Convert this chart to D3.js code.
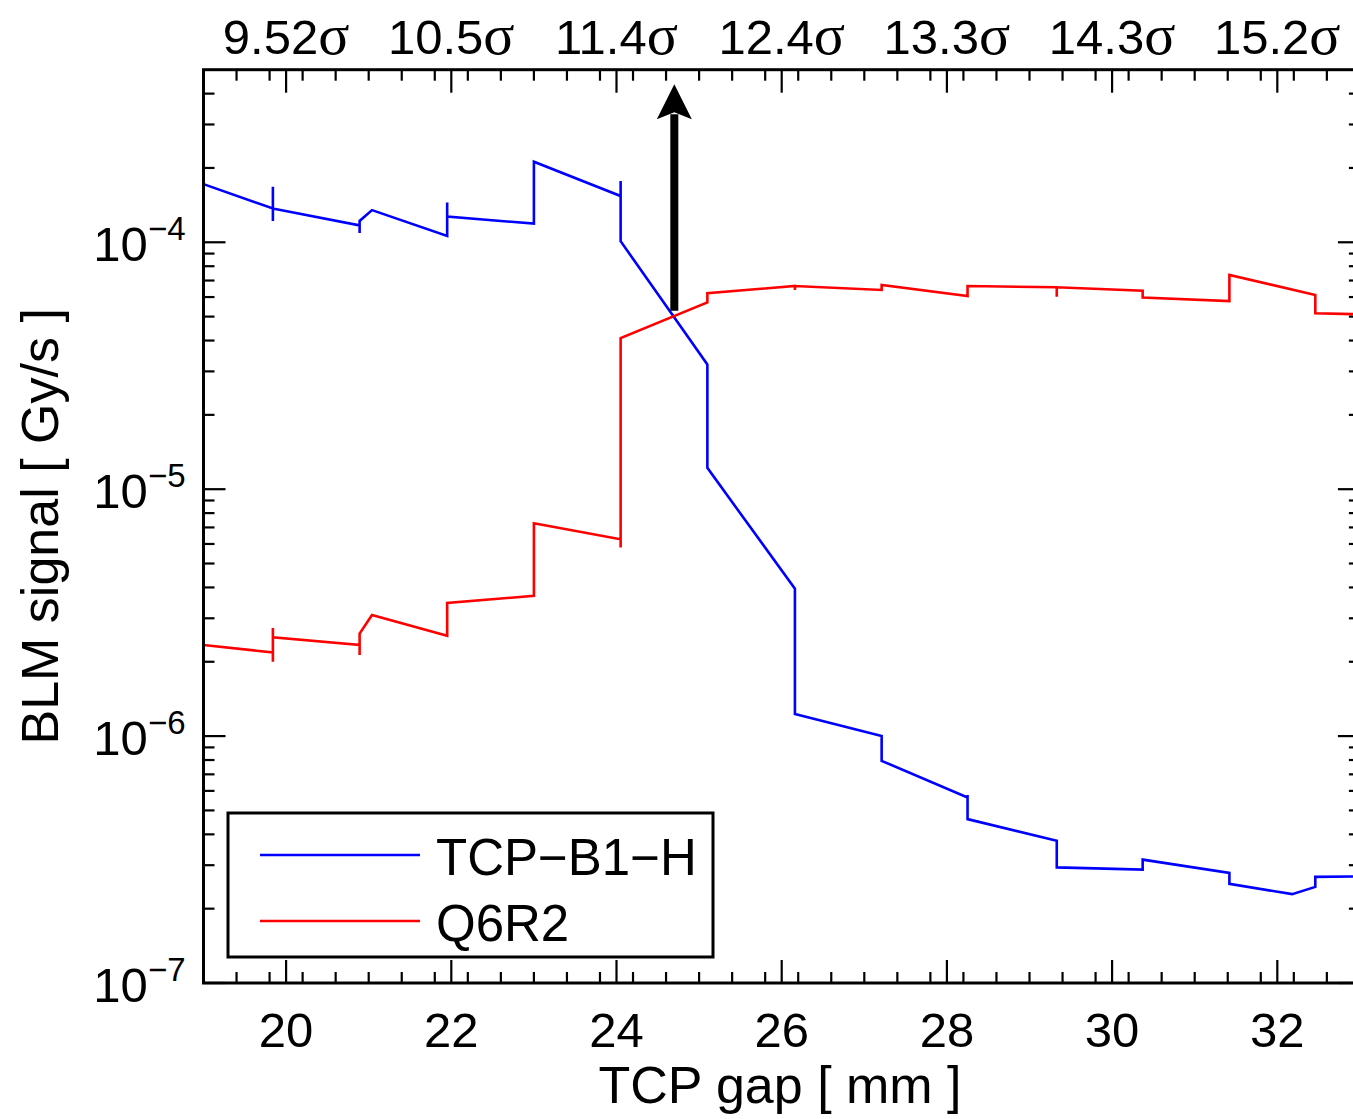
<!DOCTYPE html>
<html>
<head>
<meta charset="utf-8">
<script src="https://cdn.jsdelivr.net/npm/d3@7"></script>
<style>
body{margin:0;background:#fff}
text{font-family:"Liberation Sans",Arial,Helvetica,sans-serif}
</style>
</head>
<body>
<div id="chart"></div>
<script>
// TCP gap [mm] and BLM signal [Gy/s]
const seriesNames = ["TCP\u2212B1\u2212H", "Q6R2"]
const seriesColors = ["#0000ff", "#ff0000"]

const blueGap = [19.0,19.84,19.84,19.84,19.84,20.89,20.89,20.89,21.04,21.95,21.95,21.95,23.0,23.0,24.05,24.05,24.05,25.10,25.10,26.16,26.16,27.21,27.21,28.25,28.25,28.25,29.33,29.33,30.37,30.37,31.42,31.42,32.18,32.46,32.46,33.0]
const blueSignal = [1.72e-4,1.37e-4,1.68e-4,1.22e-4,1.37e-4,1.17e-4,1.09e-4,1.22e-4,1.35e-4,1.06e-4,1.45e-4,1.27e-4,1.19e-4,2.12e-4,1.54e-4,1.77e-4,1.01e-4,3.20e-5,1.22e-5,3.95e-6,1.23e-6,1.00e-6,7.94e-7,5.64e-7,5.77e-7,4.61e-7,3.77e-7,2.94e-7,2.88e-7,3.16e-7,2.79e-7,2.52e-7,2.29e-7,2.45e-7,2.69e-7,2.70e-7]

const redGap = [19.0,19.84,19.84,19.84,19.84,20.89,20.89,20.89,21.04,21.95,21.95,23.0,23.0,24.05,24.05,24.05,25.10,25.10,26.16,26.16,26.16,27.21,27.21,28.25,28.25,29.33,29.33,29.33,30.37,30.37,31.42,31.42,32.46,32.46,33.0]
const redSignal = [2.34e-6,2.18e-6,2.00e-6,2.74e-6,2.51e-6,2.34e-6,2.13e-6,2.60e-6,3.09e-6,2.55e-6,3.46e-6,3.70e-6,7.28e-6,6.27e-6,5.80e-6,4.09e-5,5.71e-5,6.22e-5,6.65e-5,6.41e-5,6.65e-5,6.41e-5,6.72e-5,6.06e-5,6.65e-5,6.57e-5,6.02e-5,6.57e-5,6.37e-5,5.97e-5,5.78e-5,7.37e-5,6.12e-5,5.16e-5,5.11e-5]

const gapTicks = [20,22,24,26,28,30,32]
const sigmaLabels = ["9.52","10.5","11.4","12.4","13.3","14.3","15.2"]
const decadeTicks = [1e-7,1e-6,1e-5,1e-4]
const decadeExp = ["\u22127","\u22126","\u22125","\u22124"]

const arrowGap = 24.7
const arrowFrom = 5.28e-5
const arrowTo = 4.37e-4

function translate(x,y){return `translate(${x}, ${y})`}

const svgWidth = 1353
const svgHeight = 1119
const margin = {left:203.5, top:69.7}
const graph_width = 1156.4
const graph_height = 913.3

const svg = d3.select("#chart").append("svg").attr("width",svgWidth).attr("height",svgHeight)

const xScale = d3.scaleLinear().domain([19,33]).range([0,graph_width])
const yScale = d3.scaleLog().domain([1e-7,5e-4]).range([graph_height,0])

const graphArea = svg.append("g").attr("transform", translate(margin.left, margin.top))

graphArea.append("defs").append("clipPath").attr("id","plotClip")
    .append("rect").attr("width",graph_width).attr("height",graph_height)

// minor ticks
let minorX = d3.range(19,33.001,0.4).map(v=>Math.round(v*10)/10).filter(v=>!gapTicks.includes(v))
let minorY = []
for(let e=-7;e<=-4;e++){
    for(let m=2;m<=9;m++){
        let v = m*Math.pow(10,e)
        if(v<5e-4) minorY.push(v)
    }
}

function tickSet(cls){
    return graphArea.append("g").attr("class",cls).attr("stroke","#000").attr("stroke-width",2.2)
}
let ticks = tickSet("ticks")
ticks.selectAll("line.xb").data(gapTicks.concat(minorX)).enter().append("line")
    .attr("x1",d=>xScale(d)).attr("x2",d=>xScale(d))
    .attr("y1",graph_height).attr("y2",d=>graph_height-(gapTicks.includes(d)?23:11))
ticks.selectAll("line.xt").data(gapTicks.concat(minorX)).enter().append("line")
    .attr("x1",d=>xScale(d)).attr("x2",d=>xScale(d))
    .attr("y1",0).attr("y2",d=>gapTicks.includes(d)?23:11)
ticks.selectAll("line.yl").data(decadeTicks.concat(minorY)).enter().append("line")
    .attr("y1",d=>yScale(d)).attr("y2",d=>yScale(d))
    .attr("x1",0).attr("x2",d=>decadeTicks.includes(d)?22:11)
ticks.selectAll("line.yr").data(decadeTicks.concat(minorY)).enter().append("line")
    .attr("y1",d=>yScale(d)).attr("y2",d=>yScale(d))
    .attr("x1",graph_width).attr("x2",d=>graph_width-(decadeTicks.includes(d)?22:11))

// data lines
const line = d3.line().x(d=>xScale(d[0])).y(d=>yScale(d[1]))
const series = [
    {name:seriesNames[0], color:seriesColors[0], pts:d3.zip(blueGap,blueSignal)},
    {name:seriesNames[1], color:seriesColors[1], pts:d3.zip(redGap,redSignal)}
]
graphArea.append("g").attr("clip-path","url(#plotClip)")
    .selectAll("path").data(series).enter().append("path")
    .attr("d",d=>line(d.pts))
    .attr("fill","none")
    .attr("stroke",d=>d.color)
    .attr("stroke-width",2.6)
    .attr("stroke-linejoin","miter")

// arrow
let ax = xScale(arrowGap)
let tipY = yScale(arrowTo)
graphArea.append("line")
    .attr("x1",ax).attr("x2",ax)
    .attr("y1",yScale(arrowFrom)).attr("y2",tipY+30)
    .attr("stroke","#000").attr("stroke-width",8)
graphArea.append("path")
    .attr("d",`M${ax},${tipY} L${ax-17.5},${tipY+35} L${ax},${tipY+28} L${ax+17.5},${tipY+35} Z`)
    .attr("fill","#000")

// frame
graphArea.append("rect")
    .attr("width",graph_width).attr("height",graph_height)
    .attr("fill","none").attr("stroke","#000").attr("stroke-width",3)

// bottom labels
graphArea.selectAll("text.xlab").data(gapTicks).enter().append("text")
    .attr("class","xlab")
    .attr("x",d=>xScale(d)).attr("y",graph_height+64)
    .attr("text-anchor","middle").attr("font-size",49)
    .text(d=>d)

// top sigma labels
let topLab = graphArea.selectAll("text.tlab").data(gapTicks).enter().append("text")
    .attr("class","tlab")
    .attr("x",d=>xScale(d)).attr("y",-16)
    .attr("text-anchor","middle").attr("font-size",49)
topLab.append("tspan").text((d,i)=>sigmaLabels[i])
topLab.append("tspan").attr("font-family","'Liberation Serif','Times New Roman',serif").attr("font-size",58).text("\u03c3")

// y labels
let yLab = graphArea.selectAll("text.ylab").data(decadeTicks).enter().append("text")
    .attr("class","ylab")
    .attr("x",-18).attr("y",d=>yScale(d)+19)
    .attr("text-anchor","end").attr("font-size",49)
yLab.append("tspan").text("10")
yLab.append("tspan").attr("font-size",33).attr("dy",-21).text((d,i)=>decadeExp[i])

// axis titles
svg.append("text")
    .attr("x",780).attr("y",1103)
    .attr("text-anchor","middle").attr("font-size",52)
    .text("TCP gap [ mm ]")
svg.append("text")
    .attr("transform",translate(58,margin.top+graph_height/2)+" rotate(-90)")
    .attr("text-anchor","middle").attr("font-size",52)
    .text("BLM signal [ Gy/s ]")

// legend
let legend = svg.append("g").attr("transform",translate(228,813))
legend.append("rect").attr("width",485).attr("height",144)
    .attr("fill","#fff").attr("stroke","#000").attr("stroke-width",3)
let items = legend.selectAll("g.item").data(series).enter().append("g")
    .attr("transform",(d,i)=>translate(0,42+i*66))
items.append("line").attr("x1",32).attr("x2",192).attr("y1",0).attr("y2",0)
    .attr("stroke",d=>d.color).attr("stroke-width",2.6)
items.append("text").attr("x",208).attr("y",20).attr("font-size",51).text(d=>d.name)
</script>
</body>
</html>
